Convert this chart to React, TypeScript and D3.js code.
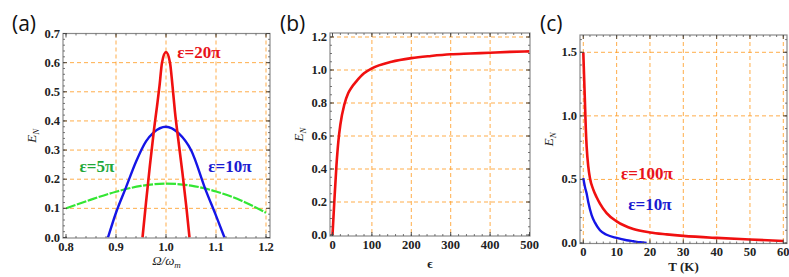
import React from "react";
import { scaleLinear, line, curveMonotoneX, range } from "d3";

// panel (a): E_N vs Omega/omega_m
const aGreenX = [0.8, 0.85, 0.9, 0.95, 1.0, 1.05, 1.1, 1.15, 1.2];
const aGreenY = [0.1, 0.13, 0.157, 0.177, 0.185, 0.178, 0.158, 0.127, 0.085];
const aBlueX = [0.884, 0.9, 0.92, 0.94, 0.96, 0.975, 1.0, 1.025, 1.05, 1.08, 1.1, 1.117];
const aBlueY = [0, 0.085, 0.172, 0.26, 0.33, 0.36, 0.38, 0.358, 0.3, 0.16, 0.075, 0];
const aRedX = [0.953, 0.96, 0.968, 0.976, 0.982, 0.987, 0.992, 1.0, 1.008, 1.013, 1.018, 1.025, 1.033, 1.041, 1.047];
const aRedY = [0, 0.12, 0.25, 0.37, 0.45, 0.52, 0.6, 0.636, 0.6, 0.52, 0.43, 0.33, 0.22, 0.1, 0];
const aXTicks = [0.8, 0.9, 1.0, 1.1, 1.2];
const aYTicks = [0, 0.1, 0.2, 0.3, 0.4, 0.5, 0.6, 0.7];

// panel (b): E_N vs epsilon
const bX = [0, 5, 10, 15, 20, 30, 40, 50, 60, 80, 100, 150, 200, 250, 300, 350, 400, 450, 500];
const bY = [0, 0.22, 0.42, 0.57, 0.67, 0.79, 0.86, 0.9, 0.93, 0.98, 1.01, 1.05, 1.072, 1.085, 1.095, 1.1, 1.105, 1.11, 1.113];
const bXTicks = [0, 100, 200, 300, 400, 500];
const bYTicks = [0, 0.2, 0.4, 0.6, 0.8, 1.0, 1.2];

// panel (c): E_N vs T
const cRedX = [0, 0.25, 0.5, 0.75, 1, 1.5, 2, 3, 4, 5, 7, 10, 15, 20, 25, 30, 40, 50, 60];
const cRedY = [1.5, 1.3, 1.1, 0.9, 0.76, 0.6, 0.51, 0.42, 0.36, 0.31, 0.235, 0.17, 0.11, 0.083, 0.068, 0.056, 0.04, 0.028, 0.016];
const cBlueX = [0, 0.5, 1, 1.5, 2.5, 3.5, 5, 7, 10, 13, 15, 17, 19];
const cBlueY = [0.51, 0.44, 0.39, 0.32, 0.22, 0.16, 0.1, 0.065, 0.04, 0.022, 0.014, 0.006, 0];
const cXTicks = [0, 10, 20, 30, 40, 50, 60];
const cYTicks = [0, 0.5, 1.0, 1.5];

const zip = (xs: number[], ys: number[]) => xs.map((x, i) => [x, ys[i]] as [number, number]);

const GRID = "#ff9a1e";
const tickFont = "'Liberation Serif', 'DejaVu Serif', serif";

type Series = { pts: [number, number][]; color: string; width: number; dash?: string };
type Note = { text: string; x: number; y: number; color: string };

interface PanelProps {
  frame: { l: number; r: number; t: number; b: number };
  xDom: [number, number];
  xRange: [number, number];
  yDom: [number, number];
  yRange: [number, number];
  xTicks: number[];
  yTicks: number[];
  xMinor: number;
  yMinor: number;
  xFmt: (v: number) => string;
  yFmt: (v: number) => string;
  series: Series[];
  notes: Note[];
  tag: string;
  tagX: number;
  xTitle: React.ReactNode;
  xTitleItalic?: boolean;
  xTitleY: number;
  yTitleX: number;
}

const Panel = (p: PanelProps) => {
  const x = scaleLinear().domain(p.xDom).range(p.xRange);
  const y = scaleLinear().domain(p.yDom).range(p.yRange);
  const f = p.frame;
  const xIn = (v: number) => x(v) >= f.l - 0.5 && x(v) <= f.r + 0.5;
  const yIn = (v: number) => y(v) >= f.t - 0.5 && y(v) <= f.b + 0.5;
  const xMin = range(p.xDom[0] - p.xMinor * 5, p.xDom[1] + p.xMinor * 5, p.xMinor).filter(xIn);
  const yMin = range(p.yDom[0] - p.yMinor * 5, p.yDom[1] + p.yMinor * 5, p.yMinor).filter(yIn);
  const gen = line<[number, number]>()
    .x((d) => x(d[0]))
    .y((d) => y(d[1]))
    .curve(curveMonotoneX);
  const gridX = p.xTicks.filter((v) => x(v) > f.l + 3 && x(v) < f.r - 3);
  const gridY = p.yTicks.filter((v) => y(v) > f.t + 3 && y(v) < f.b - 3);
  const cx = (f.l + f.r) / 2;
  return (
    <g>
      {/* grid */}
      {gridX.map((v, i) => (
        <line key={"gx" + i} x1={x(v)} x2={x(v)} y1={f.t} y2={f.b} stroke={GRID} strokeWidth={1} strokeDasharray="4,3" opacity={0.8} />
      ))}
      {gridY.map((v, i) => (
        <line key={"gy" + i} x1={f.l} x2={f.r} y1={y(v)} y2={y(v)} stroke={GRID} strokeWidth={1} strokeDasharray="4,3" opacity={0.8} />
      ))}
      {/* curves */}
      {p.series.map((s, i) => (
        <path key={i} d={gen(s.pts) ?? ""} fill="none" stroke={s.color} strokeWidth={s.width} strokeDasharray={s.dash} strokeLinejoin="round" />
      ))}
      {/* frame */}
      <rect x={f.l} y={f.t} width={f.r - f.l} height={f.b - f.t} fill="none" stroke="#8a8a8a" strokeWidth={1.2} />
      {xMin.map((v, i) => (
        <g key={"xm" + i} stroke="#555" strokeWidth={0.8}>
          <line x1={x(v)} x2={x(v)} y1={f.b} y2={f.b - 2} />
          <line x1={x(v)} x2={x(v)} y1={f.t} y2={f.t + 2} />
        </g>
      ))}
      {yMin.map((v, i) => (
        <g key={"ym" + i} stroke="#555" strokeWidth={0.8}>
          <line x1={f.l} x2={f.l + 2} y1={y(v)} y2={y(v)} />
          <line x1={f.r} x2={f.r - 2} y1={y(v)} y2={y(v)} />
        </g>
      ))}
      {p.xTicks.map((v, i) => (
        <g key={"xt" + i}>
          <line x1={x(v)} x2={x(v)} y1={f.b} y2={f.b - 4} stroke="#444" strokeWidth={0.9} />
          <line x1={x(v)} x2={x(v)} y1={f.t} y2={f.t + 4} stroke="#444" strokeWidth={0.9} />
          <text x={x(v)} y={f.b + 12.5} textAnchor="middle" fontFamily={tickFont} fontWeight="bold" fontSize={12.5} fill="#222">
            {p.xFmt(v)}
          </text>
        </g>
      ))}
      {p.yTicks.map((v, i) => (
        <g key={"yt" + i}>
          <line x1={f.l} x2={f.l + 4} y1={y(v)} y2={y(v)} stroke="#444" strokeWidth={0.9} />
          <line x1={f.r} x2={f.r - 4} y1={y(v)} y2={y(v)} stroke="#444" strokeWidth={0.9} />
          <text x={f.l - 3} y={y(v) + 4} textAnchor="end" fontFamily={tickFont} fontWeight="bold" fontSize={12.5} fill="#222">
            {p.yFmt(v)}
          </text>
        </g>
      ))}
      {/* notes */}
      {p.notes.map((n, i) => (
        <text key={"n" + i} x={n.x} y={n.y} textAnchor="middle" fontFamily={tickFont} fontWeight="bold" fontSize={17} fill={n.color}>
          {n.text}
        </text>
      ))}
      {/* titles */}
      <text
        x={cx}
        y={p.xTitleY}
        textAnchor="middle"
        fontFamily={tickFont}
        fontStyle={p.xTitleItalic ? "italic" : "normal"}
        fontWeight={p.xTitleItalic ? "normal" : "bold"}
        fontSize={13}
        fill="#222"
      >
        {p.xTitle}
      </text>
      <text transform={`translate(${p.yTitleX},${(f.t + f.b) / 2}) rotate(-90)`} textAnchor="middle" fontFamily={tickFont} fontStyle="italic" fontSize={13} fill="#222">
        E<tspan fontSize={9} dy={3}>N</tspan>
      </text>
      <text x={p.tagX} y={31} fontFamily="'Open Sans', 'Liberation Sans', sans-serif" fontSize={21} fill="#111">
        {p.tag}
      </text>
    </g>
  );
};

export default function App() {
  const fmt1 = (v: number) => v.toFixed(1);
  const fmt0 = (v: number) => v.toFixed(0);
  return (
    <svg width={789} height={277} style={{ position: "absolute", left: 0, top: 0, background: "#fff" }}>
      <Panel
        frame={{ l: 63, r: 270, t: 33.5, b: 238 }}
        xDom={[0.8, 1.2]}
        xRange={[66, 266]}
        yDom={[0, 0.7]}
        yRange={[237.5, 33.5]}
        xTicks={aXTicks}
        yTicks={aYTicks}
        xMinor={0.02}
        yMinor={0.02}
        xFmt={fmt1}
        yFmt={fmt1}
        series={[
          { pts: zip(aGreenX, aGreenY), color: "#33e633", width: 2.2, dash: "10,1.5" },
          { pts: zip(aBlueX, aBlueY), color: "#1515e6", width: 2.4 },
          { pts: zip(aRedX, aRedY), color: "#f01010", width: 2.6 },
        ]}
        notes={[
          { text: "ε=20π", x: 199, y: 58, color: "#e8141a" },
          { text: "ε=10π", x: 230, y: 172, color: "#1a1ad0" },
          { text: "ε=5π", x: 97, y: 172, color: "#1fa83a" },
        ]}
        tag="(a)"
        tagX={12}
        xTitle={<>Ω/ω<tspan fontSize={9} dy={3}>m</tspan></>}
        xTitleItalic={true}
        xTitleY={265}
        yTitleX={36}
      />
      <Panel
        frame={{ l: 330, r: 530, t: 33, b: 236 }}
        xDom={[0, 500]}
        xRange={[332.5, 529.5]}
        yDom={[0, 1.2]}
        yRange={[235, 37]}
        xTicks={bXTicks}
        yTicks={bYTicks}
        xMinor={20}
        yMinor={0.05}
        xFmt={fmt0}
        yFmt={fmt1}
        series={[{ pts: zip(bX, bY), color: "#f01010", width: 2.6 }]}
        notes={[]}
        tag="(b)"
        tagX={280}
        xTitle={"ϵ"}
        xTitleY={268}
        yTitleX={303}
      />
      <Panel
        frame={{ l: 580, r: 787, t: 35, b: 243.5 }}
        xDom={[0, 60]}
        xRange={[583.3, 783.3]}
        yDom={[0, 1.5]}
        yRange={[243, 52.3]}
        xTicks={cXTicks}
        yTicks={cYTicks}
        xMinor={2}
        yMinor={0.1}
        xFmt={fmt0}
        yFmt={fmt1}
        series={[
          { pts: zip(cBlueX, cBlueY), color: "#1515e6", width: 2.4 },
          { pts: zip(cRedX, cRedY), color: "#f01010", width: 2.6 },
        ]}
        notes={[
          { text: "ε=100π", x: 647, y: 179, color: "#e8141a" },
          { text: "ε=10π", x: 650, y: 210, color: "#1a1ad0" },
        ]}
        tag="(c)"
        tagX={540}
        xTitle={"T (K)"}
        xTitleY={271}
        yTitleX={553}
      />
    </svg>
  );
}
